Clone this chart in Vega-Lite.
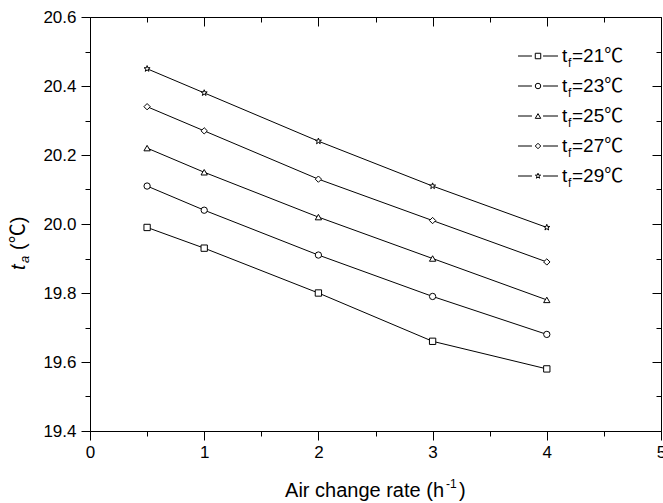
{
  "$schema": "https://vega.github.io/schema/vega-lite/v6.json",
  "width": 571,
  "height": 414,
  "autosize": "none",
  "padding": {"left": 90, "top": 17, "right": 2, "bottom": 72},
  "background": "white",
  "config": {
    "view": {"stroke": "black", "strokeWidth": 1},
    "font": "Liberation Sans, Arial, Noto Sans CJK SC",
    "axis": {"grid": false, "tickColor": "black", "domainColor": "black", "labelColor": "black", "tickWidth": 1, "domainWidth": 1}
  },
  "datasets": {
    "pts": [
      {"series": "21", "x": 0.5, "y": 19.99}, {"series": "21", "x": 1, "y": 19.93}, {"series": "21", "x": 2, "y": 19.80}, {"series": "21", "x": 3, "y": 19.66}, {"series": "21", "x": 4, "y": 19.58},
      {"series": "23", "x": 0.5, "y": 20.11}, {"series": "23", "x": 1, "y": 20.04}, {"series": "23", "x": 2, "y": 19.91}, {"series": "23", "x": 3, "y": 19.79}, {"series": "23", "x": 4, "y": 19.68},
      {"series": "25", "x": 0.5, "y": 20.22}, {"series": "25", "x": 1, "y": 20.15}, {"series": "25", "x": 2, "y": 20.02}, {"series": "25", "x": 3, "y": 19.90}, {"series": "25", "x": 4, "y": 19.78},
      {"series": "27", "x": 0.5, "y": 20.34}, {"series": "27", "x": 1, "y": 20.27}, {"series": "27", "x": 2, "y": 20.13}, {"series": "27", "x": 3, "y": 20.01}, {"series": "27", "x": 4, "y": 19.89},
      {"series": "29", "x": 0.5, "y": 20.45}, {"series": "29", "x": 1, "y": 20.38}, {"series": "29", "x": 2, "y": 20.24}, {"series": "29", "x": 3, "y": 20.11}, {"series": "29", "x": 4, "y": 19.99}
    ],
    "leg": [
      {"series": "21", "lab": "=21℃"},
      {"series": "23", "lab": "=23℃"},
      {"series": "25", "lab": "=25℃"},
      {"series": "27", "lab": "=27℃"},
      {"series": "29", "lab": "=29℃"}
    ]
  },
  "layer": [
    {
      "data": {"name": "pts"},
      "layer": [
        {
          "mark": {"type": "line", "color": "black", "strokeWidth": 1},
          "encoding": {
            "x": {"field": "x", "type": "quantitative", "scale": {"domain": [0, 5], "nice": false, "zero": false},
              "axis": {"orient": "bottom", "values": [0, 1, 2, 3, 4, 5], "format": "d", "tickSize": 9, "labelFontSize": 17, "labelFont": "Liberation Sans", "labelPadding": 4, "labelFlush": false, "labelOverlap": false, "title": null}},
            "y": {"field": "y", "type": "quantitative", "scale": {"domain": [19.4, 20.6], "nice": false, "zero": false},
              "axis": {"orient": "left", "values": [19.4, 19.6, 19.8, 20.0, 20.2, 20.4, 20.6], "format": ".1f", "tickSize": 9, "labelFontSize": 17, "labelFont": "Liberation Sans", "labelPadding": 5, "labelFlush": false, "labelOverlap": false, "title": null}},
            "detail": {"field": "series"}
          }
        },
        {
          "mark": {"type": "point", "filled": true, "fill": "white", "stroke": "black", "strokeWidth": 1, "opacity": 1},
          "encoding": {
            "x": {"field": "x", "type": "quantitative", "axis": null},
            "y": {"field": "y", "type": "quantitative", "axis": null},
            "shape": {"field": "series", "type": "nominal", "legend": null,
              "scale": {"domain": ["21", "23", "25", "27", "29"], "range": ["square", "circle", "triangle-up", "diamond", "M0,-1L0.235,-0.324L0.951,-0.309L0.380,0.124L0.588,0.809L0,0.4L-0.588,0.809L-0.380,0.124L-0.951,-0.309L-0.235,-0.324Z"]}},
            "size": {"value": 40}
          }
        },
        {
          "mark": {"type": "point", "opacity": 0},
          "encoding": {
            "x": {"field": "x", "type": "quantitative", "axis": {"orient": "bottom", "values": [0.5, 1.5, 2.5, 3.5, 4.5], "tickSize": 5, "labels": false, "domain": false, "title": null}},
            "y": {"field": "y", "type": "quantitative", "axis": {"orient": "left", "values": [19.5, 19.7, 19.9, 20.1, 20.3, 20.5], "tickSize": 5, "labels": false, "domain": false, "title": null}}
          }
        },
        {
          "mark": {"type": "point", "opacity": 0},
          "encoding": {
            "x": {"field": "x", "type": "quantitative", "axis": {"orient": "top", "values": [0, 1, 2, 3, 4, 5], "tickSize": -9, "labels": false, "domain": false, "title": null}},
            "y": {"field": "y", "type": "quantitative", "axis": {"orient": "right", "values": [19.4, 19.6, 19.8, 20.0, 20.2, 20.4, 20.6], "tickSize": -9, "labels": false, "domain": false, "title": null}}
          }
        },
        {
          "mark": {"type": "point", "opacity": 0},
          "encoding": {
            "x": {"field": "x", "type": "quantitative", "axis": {"orient": "top", "values": [0.5, 1.5, 2.5, 3.5, 4.5], "tickSize": -5, "labels": false, "domain": false, "title": null}},
            "y": {"field": "y", "type": "quantitative", "axis": {"orient": "right", "values": [19.5, 19.7, 19.9, 20.1, 20.3, 20.5], "tickSize": -5, "labels": false, "domain": false, "title": null}}
          }
        },
        {
          "data": {"values": [{"t": "Air change rate (h"}]},
          "mark": {"type": "text", "align": "right", "baseline": "alphabetic", "fontSize": 20, "font": "Liberation Sans", "color": "black"},
          "encoding": {
            "x": {"datum": 3.1, "type": "quantitative", "axis": null},
            "y": {"datum": 19.209, "type": "quantitative", "axis": null},
            "text": {"field": "t"}
          }
        },
        {
          "data": {"values": [{"t": "-1"}]},
          "mark": {"type": "text", "align": "left", "baseline": "alphabetic", "fontSize": 12, "font": "Liberation Sans", "color": "black", "dx": 2, "dy": -9},
          "encoding": {
            "x": {"datum": 3.1, "type": "quantitative", "axis": null},
            "y": {"datum": 19.209, "type": "quantitative", "axis": null},
            "text": {"field": "t"}
          }
        },
        {
          "data": {"values": [{"t": ")"}]},
          "mark": {"type": "text", "align": "left", "baseline": "alphabetic", "fontSize": 20, "font": "Liberation Sans", "color": "black", "dx": 15},
          "encoding": {
            "x": {"datum": 3.1, "type": "quantitative", "axis": null},
            "y": {"datum": 19.209, "type": "quantitative", "axis": null},
            "text": {"field": "t"}
          }
        },
        {
          "data": {"values": [{"t": "t"}]},
          "mark": {"type": "text", "align": "left", "baseline": "middle", "fontSize": 20, "font": "Liberation Sans", "fontStyle": "italic", "color": "black", "angle": 270},
          "encoding": {
            "x": {"datum": -0.622, "type": "quantitative", "axis": null},
            "y": {"datum": 19.867, "type": "quantitative", "axis": null},
            "text": {"field": "t"}
          }
        },
        {
          "data": {"values": [{"t": "a"}]},
          "mark": {"type": "text", "align": "left", "baseline": "middle", "fontSize": 13, "font": "Liberation Sans", "fontStyle": "italic", "color": "black", "angle": 270, "dx": 7, "dy": 6},
          "encoding": {
            "x": {"datum": -0.622, "type": "quantitative", "axis": null},
            "y": {"datum": 19.867, "type": "quantitative", "axis": null},
            "text": {"field": "t"}
          }
        },
        {
          "data": {"values": [{"t": "(℃)"}]},
          "mark": {"type": "text", "align": "left", "baseline": "middle", "fontSize": 20, "font": "Liberation Sans, Noto Sans CJK SC", "color": "black", "angle": 270, "dx": 20},
          "encoding": {
            "x": {"datum": -0.622, "type": "quantitative", "axis": null},
            "y": {"datum": 19.867, "type": "quantitative", "axis": null},
            "text": {"field": "t"}
          }
        }
      ],
      "resolve": {"axis": {"x": "independent", "y": "independent"}}
    },
    {
      "data": {"name": "leg"},
      "encoding": {
        "y": {"field": "series", "type": "ordinal", "scale": {"type": "point", "domain": ["21", "23", "25", "27", "29"], "range": [39, 159], "padding": 0}, "axis": null}
      },
      "layer": [
        {
          "mark": {"type": "rule", "color": "black", "strokeWidth": 1},
          "encoding": {"x": {"datum": 3.748, "type": "quantitative", "axis": null}, "x2": {"datum": 3.87}}
        },
        {
          "mark": {"type": "rule", "color": "black", "strokeWidth": 1},
          "encoding": {"x": {"datum": 3.967, "type": "quantitative", "axis": null}, "x2": {"datum": 4.098}}
        },
        {
          "mark": {"type": "point", "filled": true, "fill": "white", "stroke": "black", "strokeWidth": 1, "opacity": 1},
          "encoding": {
            "x": {"datum": 3.923, "type": "quantitative", "axis": null},
            "shape": {"field": "series", "type": "nominal", "legend": null,
              "scale": {"domain": ["21", "23", "25", "27", "29"], "range": ["square", "circle", "triangle-up", "diamond", "M0,-1L0.235,-0.324L0.951,-0.309L0.380,0.124L0.588,0.809L0,0.4L-0.588,0.809L-0.380,0.124L-0.951,-0.309L-0.235,-0.324Z"]}},
            "size": {"value": 30}
          }
        },
        {
          "mark": {"type": "text", "align": "left", "baseline": "middle", "fontSize": 19, "font": "Liberation Sans", "color": "black", "text": "t"},
          "encoding": {"x": {"datum": 4.133, "type": "quantitative", "axis": null}}
        },
        {
          "mark": {"type": "text", "align": "left", "baseline": "middle", "fontSize": 12, "font": "Liberation Sans", "color": "black", "text": "f", "dx": 6, "dy": 7},
          "encoding": {"x": {"datum": 4.133, "type": "quantitative", "axis": null}}
        },
        {
          "mark": {"type": "text", "align": "left", "baseline": "middle", "fontSize": 19, "font": "Liberation Sans, Noto Sans CJK SC", "color": "black", "dx": 10},
          "encoding": {"x": {"datum": 4.133, "type": "quantitative", "axis": null}, "text": {"field": "lab"}}
        }
      ]
    }
  ],
  "resolve": {"scale": {"y": "independent"}, "axis": {"x": "independent", "y": "independent"}}
}
